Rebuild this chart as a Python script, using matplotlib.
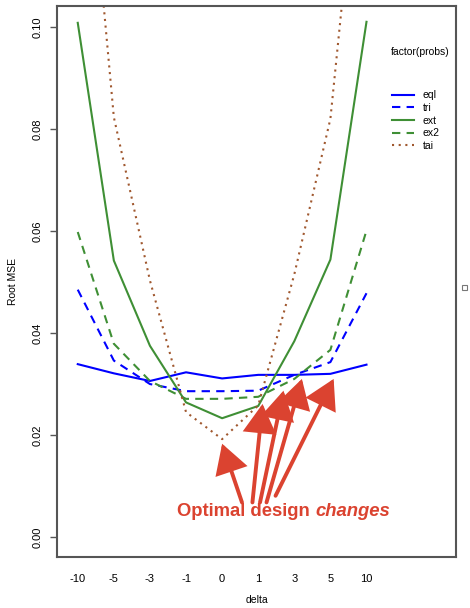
import matplotlib.pyplot as plt
from matplotlib.patches import Rectangle

plt.rcParams['font.family'] = ['Liberation Sans', 'DejaVu Sans']

# delta levels (categorical x axis)
deltas = ['-10', '-5', '-3', '-1', '0', '1', '3', '5', '10']

# Root MSE per design
eql = [0.0339, 0.0321, 0.0306, 0.0323, 0.0311, 0.0318, 0.0318, 0.0320, 0.0338]
tri = [0.0485, 0.0346, 0.0300, 0.0286, 0.0286, 0.0287, 0.0318, 0.0343, 0.0478]
ext = [0.1008, 0.0542, 0.0375, 0.0264, 0.0233, 0.0257, 0.0384, 0.0544, 0.1010]
ex2 = [0.0598, 0.0379, 0.0306, 0.0271, 0.0271, 0.0275, 0.0310, 0.0367, 0.0601]
tai = [0.160, 0.0823, 0.0503, 0.0245, 0.0192, 0.0258, 0.0515, 0.0820, 0.152]

blue = '#0000ff'
green = '#3f8f35'
brown = '#a0582f'
red = '#db4330'

fig = plt.figure(figsize=(4.7, 6.08), dpi=100)
ax = fig.add_axes([57/470, 1-557/608, 399/470, 551/608])

x = range(1, len(deltas) + 1)
ax.plot(x, eql, color=blue, lw=1.5, label='eql')
ax.plot(x, tri, color=blue, lw=1.5, ls=(0, (4, 3)), label='tri')
ax.plot(x, ext, color=green, lw=1.5, label='ext')
ax.plot(x, ex2, color=green, lw=1.5, ls=(0, (4, 3)), label='ex2')
ax.plot(x, tai, color=brown, lw=1.5, ls=(0, (1, 2.2)), label='tai')

ax.set_xlim(0.425, 11.48)
ax.set_ylim(-0.0039, 0.1041)
ax.set_xticks(list(x))
ax.set_xticklabels(deltas)
ax.set_yticks([0.00, 0.02, 0.04, 0.06, 0.08, 0.10])
ax.set_yticklabels(['0.00', '0.02', '0.04', '0.06', '0.08', '0.10'],
                   rotation=90, va='center')
ax.tick_params(axis='x', length=0, pad=12, labelsize=8)
ax.tick_params(axis='y', length=5, width=1, color='#555555', pad=5, labelsize=8)
for s in ax.spines.values():
    s.set_color('#555555')
    s.set_linewidth(1.5)

ax.set_xlabel('delta', fontsize=7.5, labelpad=8)
ax.set_ylabel('Root MSE', fontsize=7.5, labelpad=11)

# legend: title placed separately to leave a gap above the keys
ax.text(420/470, 1-52/608, 'factor(probs)', transform=fig.transFigure,
        ha='center', va='center', fontsize=7.5)
leg = ax.legend(loc='upper left', bbox_to_anchor=(383/470, 1-81/608),
                bbox_transform=fig.transFigure, frameon=False, fontsize=7.5,
                handlelength=2.1, handletextpad=0.8, labelspacing=0.25)

# arrows pointing at the best design for each delta
tips = [(5.0, 0.0183), (6.12, 0.0261), (6.70, 0.0287), (7.21, 0.0310), (8.09, 0.0310)]
tails = [(5.55, 0.0068), (5.84, 0.0068), (6.05, 0.0068), (6.23, 0.0068), (6.48, 0.0081)]
for tip, tail in zip(tips, tails):
    ax.annotate('', xy=tip, xytext=tail,
                arrowprops=dict(arrowstyle='-|>,head_length=1.3,head_width=0.75',
                                lw=2.8, color=red, mutation_scale=13,
                                shrinkA=0, shrinkB=0, joinstyle='miter'))

ax.text(315/470, 1-512/608, 'Optimal design ', transform=fig.transFigure,
        ha='right', va='center', fontsize=13.3, fontweight='bold', color=red)
ax.text(315/470, 1-512/608, 'changes', transform=fig.transFigure,
        ha='left', va='center', fontsize=13.3, fontweight='bold',
        fontstyle='italic', color=red)

fig.add_artist(Rectangle((462/470, 1-290/608), 5/470, 5/608,
                         transform=fig.transFigure, fill=False,
                         edgecolor='#777777', lw=0.8))

fig.savefig('out.png', dpi=100)
